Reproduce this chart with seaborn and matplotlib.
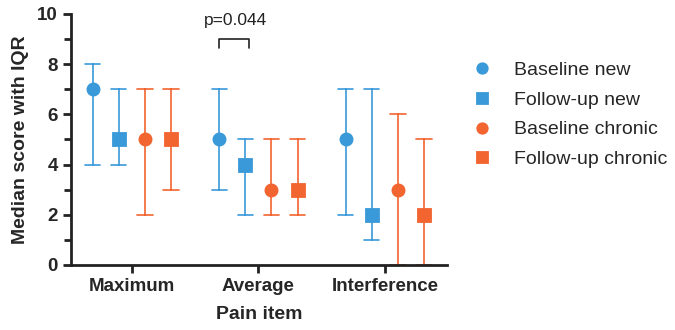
import numpy as np
import pandas as pd
import matplotlib
matplotlib.use("Agg")
import matplotlib.pyplot as plt
import seaborn as sns

categories = ["Maximum", "Average", "Interference"]
series = ["Baseline new", "Follow-up new", "Baseline chronic", "Follow-up chronic"]
median = {
    "Baseline new":      [7, 5, 5],
    "Follow-up new":     [5, 4, 2],
    "Baseline chronic":  [5, 3, 3],
    "Follow-up chronic": [5, 3, 2],
}
q1 = {
    "Baseline new":      [4, 3, 2],
    "Follow-up new":     [4, 2, 1],
    "Baseline chronic":  [2, 2, 0],
    "Follow-up chronic": [3, 2, 0],
}
q3 = {
    "Baseline new":      [8, 7, 7],
    "Follow-up new":     [7, 5, 7],
    "Baseline chronic":  [7, 5, 6],
    "Follow-up chronic": [7, 5, 5],
}
p_text = "p=0.044"

blue = "#3A9AD9"
orange = "#F26430"
palette = [blue, blue, orange, orange]
markers = ["o", "s", "o", "s"]

rows = []
for s in series:
    for i, c in enumerate(categories):
        for v in (q1[s][i], median[s][i], q3[s][i]):
            rows.append({"item": c, "group": s, "score": v})
df = pd.DataFrame(rows)

sns.set_theme(style="ticks")
plt.rcParams["font.family"] = ["Liberation Sans", "DejaVu Sans"]

fig = plt.figure(figsize=(6.75, 3.3), dpi=100)
ax = fig.add_axes([0.105, 0.197, 0.557, 0.761])

sns.pointplot(
    data=df, x="item", y="score", hue="group", order=categories, hue_order=series,
    estimator="median", errorbar=("pi", 100), dodge=0.62, markers=markers,
    linestyles="none", palette=palette, capsize=0.12, markersize=8,
    err_kws={"linewidth": 1.2}, ax=ax, legend=True,
)

ax.set_xlim(-0.482, 2.49)
ax.set_ylim(0, 10)
ax.set_yticks([0, 2, 4, 6, 8, 10])
ax.set_yticks([1, 3, 5, 7, 9], minor=True)
for sp in ["top", "right"]:
    ax.spines[sp].set_visible(False)
for sp in ["left", "bottom"]:
    ax.spines[sp].set_linewidth(2)
    ax.spines[sp].set_color("#222222")
ax.tick_params(axis="both", which="major", length=6, width=2, color="#222222",
               labelsize=13.5)
ax.tick_params(axis="y", which="minor", length=5, width=2, color="#222222")
for lab in ax.get_xticklabels() + ax.get_yticklabels():
    lab.set_fontweight("bold")
ax.set_xlabel("Pain item", fontsize=14, fontweight="bold", labelpad=8)
ax.set_ylabel("Median score with IQR", fontsize=14, fontweight="bold", labelpad=6)

# significance bracket
x0, x1 = 1 - 0.31, 1 - 0.31 + 0.237
ax.plot([x0, x0, x1, x1], [8.65, 9.0, 9.0, 8.65], color="#222222", lw=1.2, clip_on=False)
ax.text((x0 + x1) / 2 + 0.01, 9.45, p_text, ha="center", va="bottom", fontsize=12.5,
        color="#222222")

handles, labels = ax.get_legend_handles_labels()
ax.legend(handles, labels, loc="upper left", bbox_to_anchor=(1.015, 0.88), frameon=False,
          fontsize=14, handletextpad=1.05, labelspacing=0.62, handlelength=1.2,
          markerscale=0.85)

fig.savefig("out.png", dpi=100)
